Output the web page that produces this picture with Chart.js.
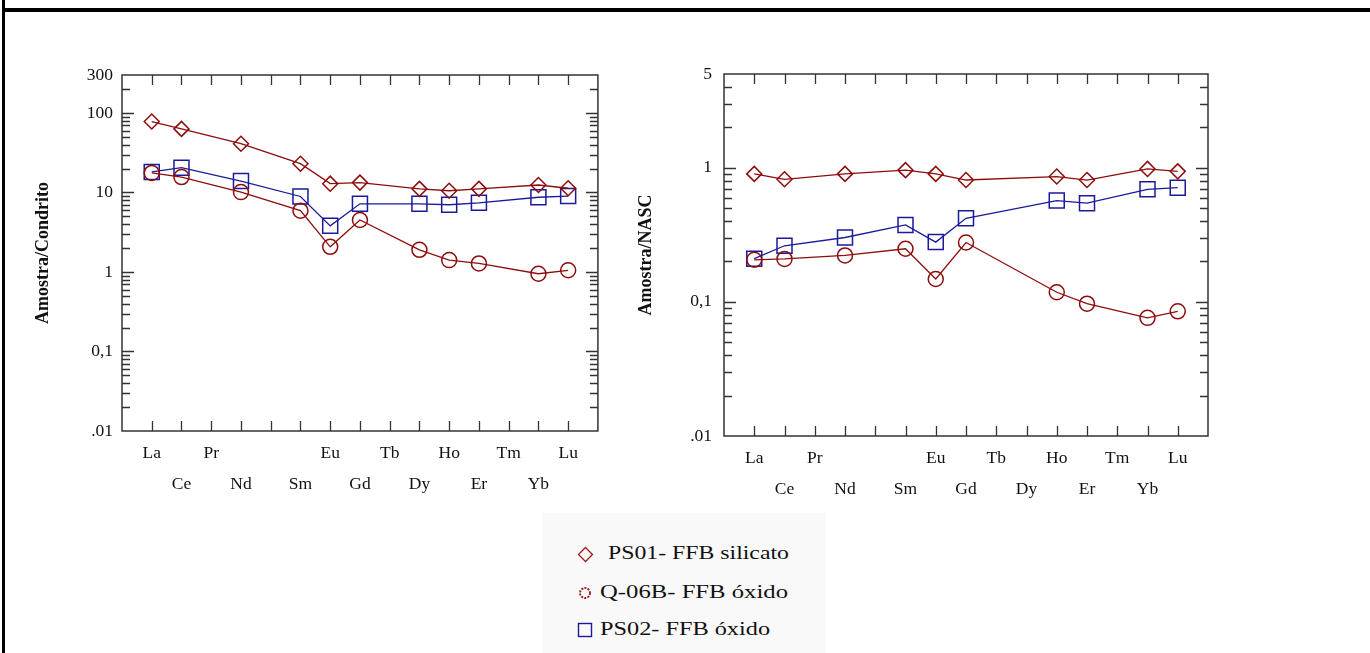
<!DOCTYPE html>
<html>
<head>
<meta charset="utf-8">
<script src="https://cdn.jsdelivr.net/npm/chart.js@4/dist/chart.umd.min.js"></script>
<style>
  html, body { margin:0; padding:0; background:#fff; width:1370px; height:653px; overflow:hidden; }
  #c1 { position:absolute; left:0; top:0; }
  #c2 { position:absolute; left:610px; top:0; }
  .frameTop { position:absolute; left:2px; top:8px; width:1368px; height:4px; background:#000; }
  .frameLeft { position:absolute; left:2px; top:0; width:3px; height:653px; background:#000; }
  #legend { position:absolute; left:542px; top:513px; width:284px; height:140px; background:#f9f9f9;
            font-family:"Liberation Serif", "DejaVu Serif", serif; font-size:19px; color:#111; }
  .item { position:absolute; left:0; height:24px; width:284px; }
  .item svg { position:absolute; }
  .item span { position:absolute; transform-origin:0 50%; white-space:nowrap; line-height:22px; }
</style>
</head>
<body>
<div class="frameTop"></div>
<div class="frameLeft"></div>
<canvas id="c1" width="610" height="500"></canvas>
<canvas id="c2" width="620" height="500"></canvas>
<div id="legend">
  <div class="item" style="top:29px;">
    <svg style="left:35px;top:4px" width="17" height="17"><polygon points="8.5,1.5 15.5,8.5 8.5,15.5 1.5,8.5" fill="none" stroke="#a01818" stroke-width="1.3"/></svg>
    <span id="l1" data-w="181" style="left:66px;top:0px">PS01- FFB silicato</span>
  </div>
  <div class="item" style="top:68px;">
    <svg style="left:36px;top:5px" width="14" height="14"><circle cx="7" cy="7" r="5" fill="none" stroke="#a01818" stroke-width="1.9" stroke-dasharray="2 1.2"/></svg>
    <span id="l2" data-w="188" style="left:58px;top:0px">Q-06B- FFB óxido</span>
  </div>
  <div class="item" style="top:105px;">
    <svg style="left:35px;top:4px" width="16" height="16"><rect x="1.5" y="1.5" width="13" height="13" fill="none" stroke="#1a1a9a" stroke-width="1.4"/></svg>
    <span id="l3" data-w="170" style="left:58px;top:0px">PS02- FFB óxido</span>
  </div>
</div>
<script>
// ---- data ----
const elements = ['La','Ce','Pr','Nd','Pm','Sm','Eu','Gd','Tb','Dy','Ho','Er','Tm','Yb','Lu'];
const xTickLabels = ['La','Ce','Pr','Nd','','Sm','Eu','Gd','Tb','Dy','Ho','Er','Tm','Yb','Lu'];

const seriesNames = ['PS01- FFB silicato','Q-06B- FFB óxido','PS02- FFB óxido'];

// Chondrite-normalised
const ps01Cond = [78, 63, null, 41, null, 23, 12.9, 13.3, null, 11.1, 10.5, 11.1, null, 12.4, 11.3];
const q06bCond = [17.6, 15.6, null, 10.1, null, 5.9, 2.07, 4.5, null, 1.9, 1.41, 1.28, null, 0.95, 1.05];
const ps02Cond = [18.1, 20.5, null, 13.9, null, 8.9, 3.8, 7.2, null, 7.2, 7.0, 7.4, null, 8.7, 9.0];

// NASC-normalised
const ps01Nasc = [0.90, 0.82, null, 0.90, null, 0.96, 0.90, 0.81, null, null, 0.86, 0.81, null, 0.98, 0.94];
const q06bNasc = [0.206, 0.209, null, 0.222, null, 0.249, 0.148, 0.277, null, null, 0.118, 0.097, null, 0.076, 0.085];
const ps02Nasc = [0.21, 0.262, null, 0.302, null, 0.375, 0.279, 0.42, null, null, 0.569, 0.544, null, 0.69, 0.71];

const yTicksCond = [0.01, 0.1, 1, 10, 100, 300];
const yLabelsCond = ['.01', '0,1', '1', '10', '100', '300'];
const yTicksNasc = [0.01, 0.1, 1, 5];
const yLabelsNasc = ['.01', '0,1', '1', '5'];

// ---- styles ----
const RED = '#8e0c0c';
const BLUE = '#1a1a9a';
const AXIS = '#333333';
const SERIF = '"Liberation Serif", "Times New Roman", serif';

// fit legend text widths
document.querySelectorAll('#legend span').forEach(s => {
  const w = s.getBoundingClientRect().width;
  const target = +s.dataset.w;
  if (w > 0) s.style.transform = 'scaleX(' + (target / w).toFixed(3) + ')';
});

function toPoints(arr) {
  const out = [];
  arr.forEach((v, i) => { if (v !== null) out.push({x: i + 1, y: v}); });
  return out;
}

const frameTicks = {
  id: 'frameTicks',
  afterDraw(chart) {
    const {ctx, chartArea: a, scales} = chart;
    const xs = scales.x, ys = scales.y;
    ctx.save();
    ctx.strokeStyle = AXIS;
    ctx.lineWidth = 1.5;
    ctx.strokeRect(a.left, a.top, a.right - a.left, a.bottom - a.top);
    ctx.lineWidth = 1.3;
    ctx.beginPath();
    elements.forEach((e, i) => {
      const px = Math.round(xs.getPixelForValue(i + 1)) + 0.5;
      ctx.moveTo(px, a.bottom); ctx.lineTo(px, a.bottom - 10);
      ctx.moveTo(px, a.top); ctx.lineTo(px, a.top + 10);
    });
    const min = ys.min, max = ys.max;
    for (let e = -3; e <= 3; e++) {
      for (let m = 1; m <= 9; m++) {
        const v = m * Math.pow(10, e);
        if (v <= min * 1.0001 || v >= max * 0.9999) continue;
        const py = Math.round(ys.getPixelForValue(v)) + 0.5;
        const len = (m === 1) ? 12 : 8;
        ctx.moveTo(a.left, py); ctx.lineTo(a.left + len, py);
        ctx.moveTo(a.right, py); ctx.lineTo(a.right - len, py);
      }
    }
    ctx.stroke();
    ctx.restore();
  }
};

function makeChart(id, series, yMin, yMax, yTicks, yLabels, title, geom) {
  const ds = [
    {label: seriesNames[0], data: toPoints(series[0]), borderColor: RED, pointStyle: 'rectRot', pointRadius: 7.5},
    {label: seriesNames[1], data: toPoints(series[1]), borderColor: RED, pointStyle: 'circle', pointRadius: 7.5},
    {label: seriesNames[2], data: toPoints(series[2]), borderColor: BLUE, pointStyle: 'rect', pointRadius: 10.6}
  ].map(d => Object.assign(d, {
    borderWidth: 1.3, pointBorderWidth: 1.5, pointBorderColor: d.borderColor,
    pointBackgroundColor: 'rgba(0,0,0,0)', backgroundColor: 'rgba(0,0,0,0)',
    pointHoverRadius: d.pointRadius, tension: 0, spanGaps: true, clip: false
  }));
  return new Chart(document.getElementById(id), {
    type: 'line',
    data: {datasets: ds},
    options: {
      responsive: false, animation: false, devicePixelRatio: 1,
      layout: {padding: {left: 0, top: geom.top, right: geom.right, bottom: 0}},
      plugins: {legend: {display: false}, tooltip: {enabled: false}},
      scales: {
        x: {
          type: 'linear', min: 0, max: 16,
          grid: {display: false, drawTicks: false}, border: {display: false},
          afterBuildTicks: s => { s.ticks = elements.map((e, i) => ({value: i + 1})); },
          afterFit: s => { s.height = geom.xh; },
          ticks: {
            autoSkip: false, maxRotation: 0, padding: geom.xpad, color: '#111',
            font: {family: SERIF, size: 17.5, lineHeight: 31 / 17.5},
            callback: (v) => {
              const i = Math.round(v) - 1;
              const lab = xTickLabels[i] || '';
              return (i % 2 === 0) ? [lab, ''] : ['', lab];
            }
          }
        },
        y: {
          type: 'logarithmic', min: yMin, max: yMax,
          grid: {display: false, drawTicks: false}, border: {display: false},
          afterBuildTicks: s => { s.ticks = yTicks.map(v => ({value: v})); },
          afterFit: s => { s.width = geom.yw; },
          ticks: {
            autoSkip: false, padding: geom.ypad, color: '#111',
            font: {family: SERIF, size: 17.5},
            callback: (v, i) => yLabels[yTicks.indexOf(v)] !== undefined ? yLabels[yTicks.indexOf(v)] : yLabels[i]
          },
          title: {
            display: true, text: title, color: '#111',
            font: {family: SERIF, size: 18, weight: 'bold'},
            padding: {top: geom.tpad, bottom: 0}
          }
        }
      }
    },
    plugins: [frameTicks]
  });
}

makeChart('c1', [ps01Cond, q06bCond, ps02Cond], 0.01, 300, yTicksCond, yLabelsCond, 'Amostra/Condrito',
  {top: 75, right: 11, xh: 69, yw: 122, xpad: 7, ypad: 9, tpad: 33});
makeChart('c2', [ps01Nasc, q06bNasc, ps02Nasc], 0.01, 5, yTicksNasc, yLabelsNasc, 'Amostra/NASC',
  {top: 74, right: 22, xh: 64, yw: 114, xpad: 7, ypad: 12, tpad: 26});
</script>
</body>
</html>
